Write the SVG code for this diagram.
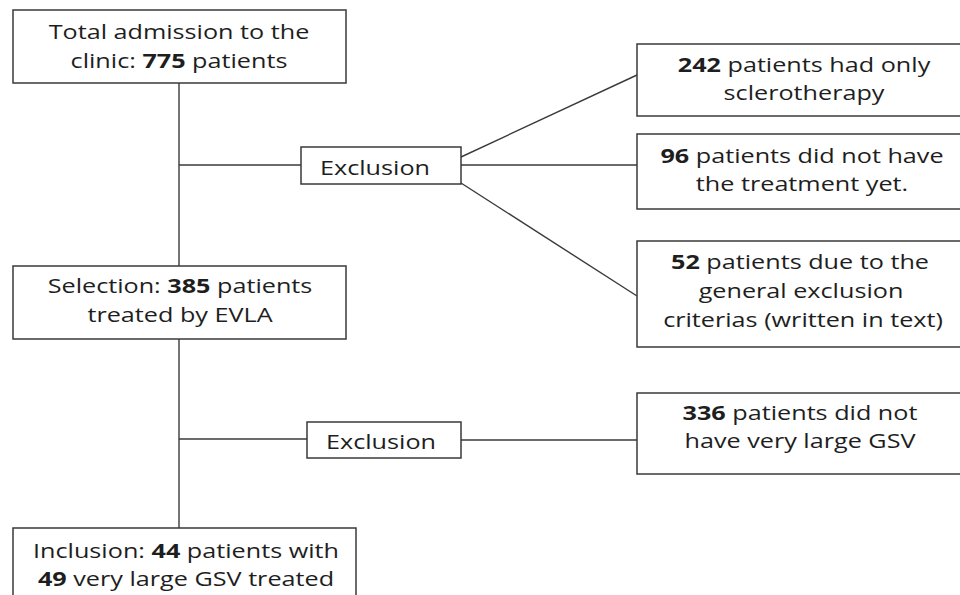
<svg xmlns="http://www.w3.org/2000/svg" width="960" height="595" viewBox="0 0 960 595">
<style>
.box{fill:#fff;stroke:#3a3a3a;stroke-width:1.5}
.ln{stroke:#3a3a3a;stroke-width:1.4;fill:none}
text{font-family:"Open Sans","Liberation Sans",sans-serif;font-size:20px;fill:#1e1e1e;text-anchor:middle}
.b{font-weight:bold}
</style>
<rect width="960" height="595" fill="#fff"/>
<g id="connectors">
<line class="ln" x1="179" y1="83" x2="179" y2="266"/>
<line class="ln" x1="179" y1="165" x2="301" y2="165"/>
<line class="ln" x1="461" y1="157" x2="637" y2="75"/>
<line class="ln" x1="461" y1="165" x2="637" y2="165"/>
<line class="ln" x1="461" y1="183" x2="637" y2="296"/>
<line class="ln" x1="179" y1="339" x2="179" y2="528"/>
<line class="ln" x1="179" y1="439" x2="307" y2="439"/>
<line class="ln" x1="461" y1="440" x2="637" y2="440"/>
</g>
<g id="total">
<rect class="box" x="13" y="10" width="333" height="73"/>
<text transform="translate(179 39) scale(1.26 1)">Total admission to the</text>
<text transform="translate(179 68) scale(1.26 1)">clinic: <tspan class="b">775</tspan> patients</text>
</g>
<g id="exclusion1">
<rect class="box" x="301" y="147" width="160" height="37"/>
<text transform="translate(375 175) scale(1.26 1)">Exclusion</text>
</g>
<g id="sclero">
<rect class="box" x="637" y="44" width="340" height="72"/>
<text transform="translate(804 72) scale(1.26 1)"><tspan class="b">242</tspan> patients had only</text>
<text transform="translate(804 100) scale(1.26 1)">sclerotherapy</text>
</g>
<g id="notyet">
<rect class="box" x="637" y="134" width="340" height="75"/>
<text transform="translate(802 163) scale(1.26 1)"><tspan class="b">96</tspan> patients did not have</text>
<text transform="translate(802 191) scale(1.26 1)">the treatment yet.</text>
</g>
<g id="general">
<rect class="box" x="637" y="241" width="340" height="106"/>
<text transform="translate(800 269) scale(1.26 1)"><tspan class="b">52</tspan> patients due to the</text>
<text transform="translate(801 298) scale(1.26 1)">general exclusion</text>
<text transform="translate(803 327) scale(1.26 1)">criterias (written in text)</text>
</g>
<g id="selection">
<rect class="box" x="13" y="266" width="333" height="73"/>
<text transform="translate(180 293) scale(1.26 1)">Selection: <tspan class="b">385</tspan> patients</text>
<text transform="translate(180 322) scale(1.26 1)">treated by EVLA</text>
</g>
<g id="exclusion2">
<rect class="box" x="307" y="422" width="154" height="36"/>
<text transform="translate(381 449) scale(1.26 1)">Exclusion</text>
</g>
<g id="notlarge">
<rect class="box" x="637" y="393" width="340" height="81"/>
<text transform="translate(800 420) scale(1.26 1)"><tspan class="b">336</tspan> patients did not</text>
<text transform="translate(800 448) scale(1.26 1)">have very large GSV</text>
</g>
<g id="inclusion">
<rect class="box" x="13" y="528" width="343" height="80"/>
<text transform="translate(186 558) scale(1.26 1)">Inclusion: <tspan class="b">44</tspan> patients with</text>
<text transform="translate(186 586) scale(1.26 1)"><tspan class="b">49</tspan> very large GSV treated</text>
</g>
</svg>
